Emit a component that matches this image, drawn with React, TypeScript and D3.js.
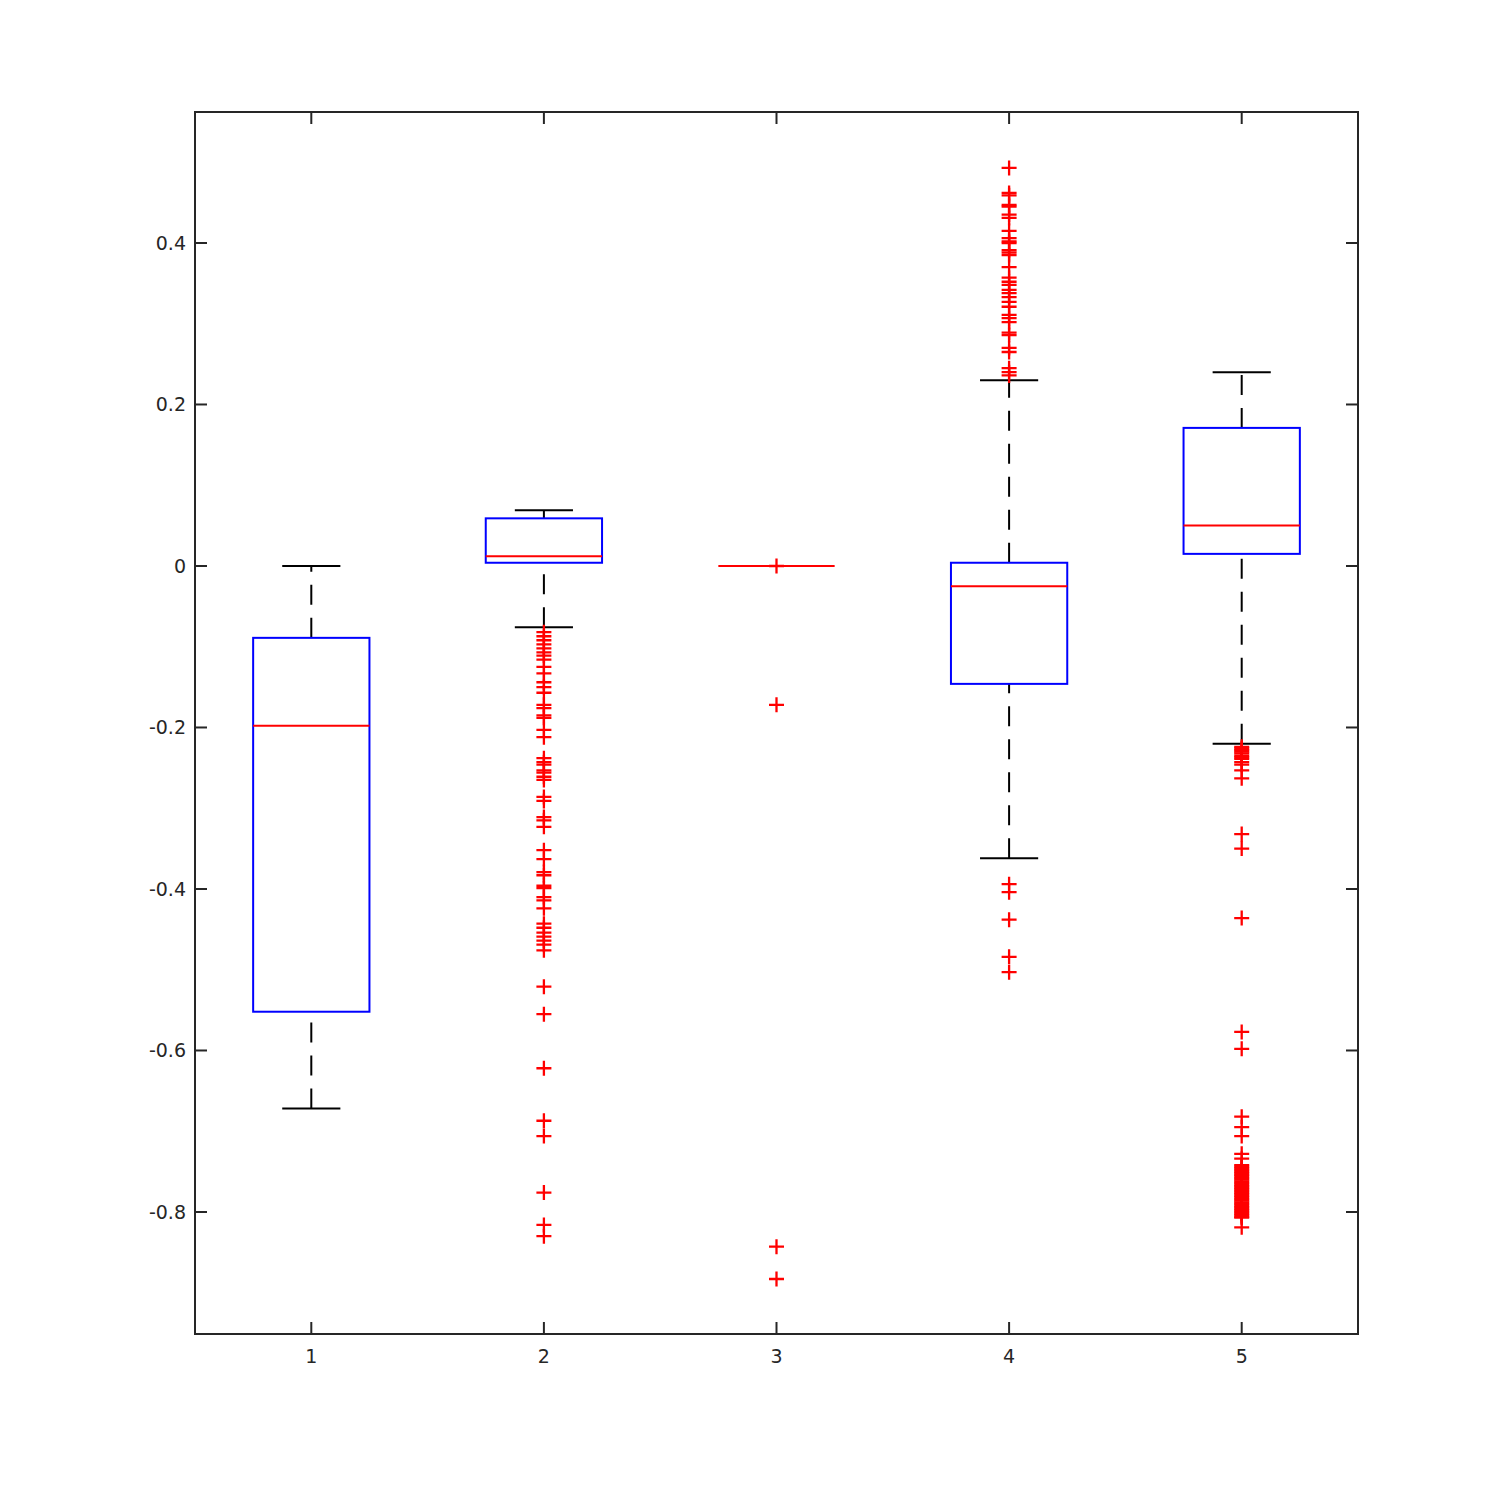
import React from 'react';
import * as d3 from 'd3';

const groups = [1, 2, 3, 4, 5];
const q1 = [-0.552, 0.004, 0, -0.146, 0.015];
const medians = [-0.198, 0.012, 0, -0.025, 0.05];
const q3 = [-0.089, 0.059, 0, 0.004, 0.171];
const whiskerLow = [-0.672, -0.076, 0, -0.362, -0.22];
const whiskerHigh = [0, 0.069, 0, 0.23, 0.24];

const outliers: number[][] = [
  [],
  [-0.082, -0.087, -0.092, -0.097, -0.102, -0.107, -0.111, -0.116, -0.125, -0.133, -0.144, -0.15,
    -0.157, -0.172, -0.176, -0.185, -0.188, -0.203, -0.212, -0.238, -0.243, -0.246, -0.253, -0.256,
    -0.261, -0.265, -0.286, -0.291, -0.311, -0.315, -0.323, -0.352, -0.363, -0.379, -0.383, -0.396,
    -0.399, -0.41, -0.414, -0.424, -0.443, -0.448, -0.454, -0.459, -0.464, -0.469, -0.476, -0.521,
    -0.555, -0.622, -0.687, -0.706, -0.776, -0.816, -0.83],
  [0, -0.172, -0.843, -0.883],
  [0.493, 0.462, 0.459, 0.447, 0.445, 0.435, 0.431, 0.415, 0.406, 0.402, 0.4, 0.391, 0.388, 0.385,
    0.37, 0.357, 0.352, 0.348, 0.342, 0.338, 0.333, 0.327, 0.321, 0.311, 0.307, 0.302, 0.289, 0.286,
    0.27, 0.265, 0.245, 0.24, 0.236, -0.394, -0.404, -0.438, -0.484, -0.503],
  [-0.224, -0.226, -0.228, -0.23, -0.232, -0.235, -0.237, -0.239, -0.243, -0.246, -0.253, -0.263,
    -0.332, -0.35, -0.436, -0.577, -0.598, -0.682, -0.695, -0.706, -0.728, -0.734, -0.742, -0.744,
    -0.746, -0.748, -0.75, -0.752, -0.754, -0.756, -0.758, -0.76, -0.762, -0.764, -0.766, -0.768,
    -0.77, -0.772, -0.774, -0.776, -0.778, -0.78, -0.782, -0.784, -0.786, -0.788, -0.79, -0.792,
    -0.794, -0.796, -0.798, -0.8, -0.802, -0.804, -0.806, -0.807, -0.819],
];

const yTicks = [-0.8, -0.6, -0.4, -0.2, 0, 0.2, 0.4];

const App = () => {
  const width = 1500;
  const height = 1500;
  const margin = { top: 112, right: 142, bottom: 166, left: 195 };

  const x = d3.scaleLinear()
    .domain([0.5, 5.5])
    .range([margin.left, width - margin.right]);

  const y = d3.scaleLinear()
    .domain([-0.9511, 0.5622])
    .range([height - margin.bottom, margin.top]);

  const boxHalf = x(1.25) - x(1);
  const capHalf = x(1.125) - x(1);
  const axisColor = '#262626';
  const font = 'DejaVu Sans, sans-serif';
  const tickLen = 12;

  return (
    <svg width={width} height={height} style={{ position: 'absolute', left: 0, top: 0, background: '#fff' }}>
      <rect x={0} y={0} width={width} height={height} fill="#fff" />

      {groups.map((g, i) => {
        const cx = x(g);
        return (
          <g key={g}>
            {/* whiskers, drawn from low to high value */}
            <line x1={cx} x2={cx} y1={y(whiskerLow[i])} y2={y(q1[i])}
              stroke="#000" strokeWidth={2} strokeDasharray="20,13" />
            <line x1={cx} x2={cx} y1={y(q3[i])} y2={y(whiskerHigh[i])}
              stroke="#000" strokeWidth={2} strokeDasharray="20,13" />
            <line x1={cx - capHalf} x2={cx + capHalf} y1={y(whiskerLow[i])} y2={y(whiskerLow[i])}
              stroke="#000" strokeWidth={2} />
            <line x1={cx - capHalf} x2={cx + capHalf} y1={y(whiskerHigh[i])} y2={y(whiskerHigh[i])}
              stroke="#000" strokeWidth={2} />
            <rect x={cx - boxHalf} width={boxHalf * 2} y={y(q3[i])} height={y(q1[i]) - y(q3[i])}
              fill="none" stroke="#0000ff" strokeWidth={2} />
            <line x1={cx - boxHalf} x2={cx + boxHalf} y1={y(medians[i])} y2={y(medians[i])}
              stroke="#ff0000" strokeWidth={2} />
            {outliers[i].map((v, j) => (
              <path key={j} d={`M${cx - 7.5},${y(v)}H${cx + 7.5}M${cx},${y(v) - 7.5}V${y(v) + 7.5}`}
                stroke="#ff0000" strokeWidth={2.3} fill="none" />
            ))}
          </g>
        );
      })}

      {/* axes frame */}
      <rect x={margin.left} y={margin.top} width={width - margin.left - margin.right}
        height={height - margin.top - margin.bottom} fill="none" stroke={axisColor} strokeWidth={2} />

      {yTicks.map(t => (
        <g key={t}>
          <line x1={margin.left} x2={margin.left + tickLen} y1={y(t)} y2={y(t)} stroke={axisColor} strokeWidth={2} />
          <line x1={width - margin.right} x2={width - margin.right - tickLen} y1={y(t)} y2={y(t)} stroke={axisColor} strokeWidth={2} />
          <text x={margin.left - 9} y={y(t)} dy="0.35em" textAnchor="end" fontFamily={font} fontSize={19} fill={axisColor}>
            {t === 0 ? '0' : d3.format('.1f')(t).replace('−', '-')}
          </text>
        </g>
      ))}

      {groups.map(g => (
        <g key={g}>
          <line x1={x(g)} x2={x(g)} y1={height - margin.bottom} y2={height - margin.bottom - tickLen} stroke={axisColor} strokeWidth={2} />
          <line x1={x(g)} x2={x(g)} y1={margin.top} y2={margin.top + tickLen} stroke={axisColor} strokeWidth={2} />
          <text x={x(g)} y={height - margin.bottom + 29} textAnchor="middle" fontFamily={font} fontSize={19} fill={axisColor}>
            {g}
          </text>
        </g>
      ))}
    </svg>
  );
};

export default App;
